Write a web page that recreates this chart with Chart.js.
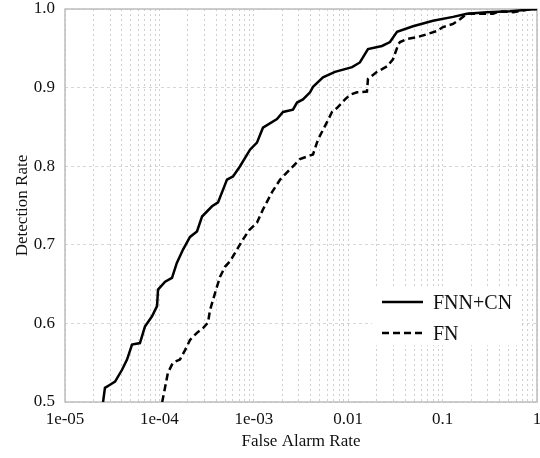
<!DOCTYPE html>
<html>
<head>
<meta charset="utf-8">
<script src="https://cdn.jsdelivr.net/npm/chart.js@4.4.1/dist/chart.umd.min.js"></script>
<style>
  body { margin: 0; background: #fff; }
</style>
</head>
<body>
<canvas id="myChart" width="540" height="458"></canvas>
<script>
let seriesNames = ["FNN+CN", "FN"];

let fnnX = [2.53e-5, 2.65e-5, 3.0e-5, 3.39e-5, 4.02e-5, 4.54e-5, 5.13e-5, 6.22e-5, 7.03e-5, 8.35e-5,
            9.44e-5, 9.67e-5, 1.15e-4, 1.36e-4, 1.53e-4, 1.78e-4, 1.96e-4, 2.11e-4, 2.5e-4, 2.83e-4,
            3.61e-4, 4.18e-4, 5.2e-4, 6.02e-4, 7.15e-4, 9.12e-4, 1.08e-3, 1.25e-3, 1.76e-3, 2.04e-3,
            2.6e-3, 2.87e-3, 3.32e-3, 3.94e-3, 4.24e-3, 5.41e-3, 7.24e-3, 1.1e-2, 1.33e-2, 1.62e-2,
            2.28e-2, 2.77e-2, 3.29e-2, 4.86e-2, 7.91e-2, 0.129, 0.181, 0.295, 0.518, 0.784, 1.0];
let fnnY = [0.500, 0.518, 0.522, 0.526, 0.541, 0.554, 0.573, 0.575, 0.596, 0.609,
            0.622, 0.643, 0.653, 0.658, 0.677, 0.694, 0.703, 0.710, 0.717, 0.736,
            0.749, 0.754, 0.783, 0.787, 0.800, 0.821, 0.830, 0.849, 0.860, 0.869,
            0.872, 0.881, 0.885, 0.894, 0.901, 0.913, 0.920, 0.926, 0.932, 0.949,
            0.953, 0.958, 0.971, 0.978, 0.985, 0.990, 0.994, 0.996, 0.997, 0.999, 1.0];

let fnX = [1.07e-4, 1.15e-4, 1.23e-4, 1.39e-4, 1.65e-4, 1.87e-4, 2.11e-4, 2.5e-4, 2.9e-4, 3.27e-4,
           3.44e-4, 3.7e-4, 4.08e-4, 4.38e-4, 4.95e-4, 5.6e-4, 6.64e-4, 7.69e-4, 9.0e-4, 1.08e-3,
           1.25e-3, 1.56e-3, 1.9e-3, 2.42e-3, 3.08e-3, 4.24e-3, 4.79e-3, 5.96e-3, 6.73e-3, 7.6e-3,
           9.25e-3, 1.05e-2, 1.24e-2, 1.58e-2, 1.62e-2, 2.02e-2, 2.58e-2, 2.98e-2, 3.4e-2, 3.54e-2,
           4.2e-2, 5.36e-2, 6.84e-2, 8.73e-2, 0.101, 0.129, 0.153, 0.181, 0.249, 0.342,
           0.406, 0.557, 0.783, 1.0];
let fnY = [0.500, 0.519, 0.537, 0.550, 0.554, 0.566, 0.579, 0.588, 0.594, 0.601,
           0.617, 0.630, 0.647, 0.659, 0.672, 0.679, 0.694, 0.707, 0.719, 0.728,
           0.745, 0.767, 0.783, 0.796, 0.809, 0.815, 0.834, 0.856, 0.869, 0.874,
           0.885, 0.891, 0.894, 0.895, 0.911, 0.920, 0.927, 0.936, 0.955, 0.958,
           0.962, 0.964, 0.968, 0.972, 0.977, 0.981, 0.987, 0.994, 0.994, 0.994,
           0.997, 0.996, 0.999, 1.0];

let xTickValues = [1e-5, 1e-4, 1e-3, 1e-2, 1e-1, 1];
let xTickLabels = ["1e-05", "1e-04", "1e-03", "0.01", "0.1", "1"];
let yTickValues = [0.5, 0.6, 0.7, 0.8, 0.9, 1.0];

let serif = "'Liberation Serif', 'Times New Roman', serif";

function toPoints(xs, ys) {
    return xs.map((x, i) => ({x: x, y: ys[i]}));
}

// white box with the two line samples, inside the plot
let insideLegend = {
    id: 'insideLegend',
    afterDatasetsDraw(chart) {
        let ctx = chart.ctx;
        let a = chart.chartArea;
        ctx.save();
        ctx.fillStyle = '#fff';
        ctx.fillRect(a.right - 165, a.bottom - 115, 150, 58);
        chart.data.datasets.forEach((ds, i) => {
            let y = a.bottom - 100 + i * 31;
            ctx.strokeStyle = ds.borderColor;
            ctx.lineWidth = ds.borderWidth;
            ctx.setLineDash(ds.borderDash || []);
            ctx.beginPath();
            ctx.moveTo(a.right - 155, y);
            ctx.lineTo(a.right - 114, y);
            ctx.stroke();
            ctx.setLineDash([]);
            ctx.fillStyle = '#111';
            ctx.font = "20px " + serif;
            ctx.textBaseline = 'middle';
            ctx.fillText(ds.label, a.right - 104, y + 2);
        });
        ctx.restore();
    }
};

let frame = {
    id: 'frame',
    beforeDatasetsDraw(chart) {
        let a = chart.chartArea;
        let ctx = chart.ctx;
        ctx.save();
        ctx.strokeStyle = '#bdbdbd';
        ctx.lineWidth = 1.5;
        ctx.strokeRect(a.left, a.top, a.right - a.left, a.bottom - a.top);
        ctx.restore();
    }
};

let myChart = document.getElementById("myChart").getContext('2d');

let chart1 = new Chart(myChart, {
    type: 'line',
    data: {
        datasets: [{
            label: seriesNames[0],
            data: toPoints(fnnX, fnnY),
            borderColor: '#000',
            borderWidth: 2.5,
            pointRadius: 0,
            tension: 0
        }, {
            label: seriesNames[1],
            data: toPoints(fnX, fnY),
            borderColor: '#000',
            borderWidth: 2.5,
            borderDash: [7, 4],
            pointRadius: 0,
            tension: 0
        }]
    },
    options: {
        responsive: false,
        animation: false,
        devicePixelRatio: 1,
        layout: { padding: { left: 0, right: 3, top: 9, bottom: 0 } },
        plugins: {
            legend: { display: false },
            tooltip: { enabled: false }
        },
        scales: {
            x: {
                type: 'logarithmic',
                min: 1e-5,
                max: 1,
                afterBuildTicks(scale) {
                    let ticks = [];
                    for (let e = -5; e < 0; e++) {
                        for (let m = 1; m <= 9; m++) ticks.push({value: m * Math.pow(10, e)});
                    }
                    ticks.push({value: 1});
                    scale.ticks = ticks;
                },
                afterFit(scale) {
                    scale.height = 56;
                    scale.paddingLeft = 0;
                    scale.paddingRight = 0;
                },
                ticks: {
                    autoSkip: false,
                    maxRotation: 0,
                    padding: 7,
                    color: '#111',
                    font: { family: serif, size: 17 },
                    callback(value) {
                        let k = xTickValues.findIndex(v => Math.abs(Math.log10(v) - Math.log10(value)) < 1e-6);
                        return k >= 0 ? xTickLabels[k] : '';
                    }
                },
                grid: { color: '#cfcfcf', lineWidth: 1, drawTicks: false },
                border: { display: false, dash: [2, 3] },
                title: {
                    display: true,
                    text: 'False Alarm Rate',
                    color: '#111',
                    font: { family: serif, size: 17 },
                    padding: { top: 0, bottom: 6 }
                }
            },
            y: {
                min: 0.5,
                max: 1.0,
                afterBuildTicks(scale) {
                    scale.ticks = yTickValues.map(v => ({value: v}));
                },
                afterFit(scale) {
                    scale.width = 65;
                    scale.paddingTop = 0;
                    scale.paddingBottom = 0;
                },
                ticks: {
                    padding: 10,
                    color: '#111',
                    font: { family: serif, size: 17 },
                    callback: (value) => value.toFixed(1)
                },
                grid: { color: '#d6d6d6', lineWidth: 1, drawTicks: false },
                border: { display: false, dash: [3, 3] },
                title: {
                    display: true,
                    text: 'Detection Rate',
                    color: '#111',
                    font: { family: serif, size: 17 },
                    padding: { top: 12, bottom: 0 }
                }
            }
        }
    },
    plugins: [frame, insideLegend]
});
</script>
</body>
</html>
